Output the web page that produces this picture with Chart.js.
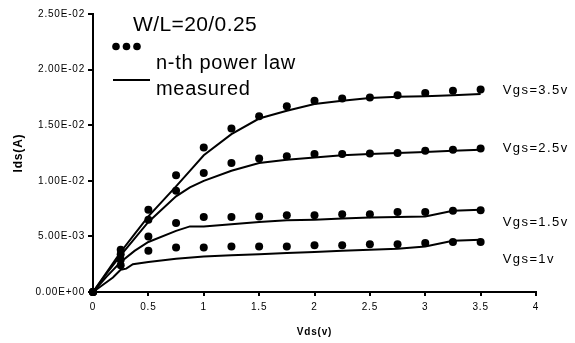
<!DOCTYPE html>
<html>
<head>
<meta charset="utf-8">
<script src="https://cdn.jsdelivr.net/npm/chart.js@4.4.1/dist/chart.umd.min.js"></script>
<style>
html,body{margin:0;padding:0;background:#fff;}
canvas{display:block;}
</style>
</head>
<body>
<canvas id="c" width="575" height="343" style="width:575px;height:343px"></canvas>
<script>
// ---- data ----
const vdsModel = [0, 0.25, 0.5, 0.75, 1, 1.25, 1.5, 1.75, 2, 2.25, 2.5, 2.75, 3, 3.25, 3.5];
const model35 = [0, 0.0038, 0.0074, 0.0105, 0.0130, 0.0147, 0.0158, 0.0167, 0.0172, 0.0174, 0.0175, 0.0177, 0.0179, 0.0181, 0.0182];
const model25 = [0, 0.0034, 0.0065, 0.0091, 0.0107, 0.0116, 0.0120, 0.0122, 0.0124, 0.0124, 0.01245, 0.0125, 0.0127, 0.0128, 0.0129];
const model15 = [0, 0.0029, 0.0050, 0.0062, 0.00675, 0.00675, 0.0068, 0.0069, 0.0069, 0.0070, 0.0070, 0.0072, 0.0072, 0.0073, 0.00735];
const model10 = [0, 0.0024, 0.0037, 0.0040, 0.0040, 0.0041, 0.0041, 0.0041, 0.0042, 0.0042, 0.0043, 0.0043, 0.0044, 0.0045, 0.0045];

const vdsMeasured = [0, 0.125, 0.25, 0.375, 0.5, 0.75, 0.875, 1, 1.25, 1.5, 1.75, 2, 2.25, 2.5, 2.75, 3, 3.25, 3.5];
const meas35 = [0, 0.0018, 0.0036, 0.0052, 0.0068, 0.0095, 0.0109, 0.0123, 0.0142, 0.0156, 0.0163, 0.0169, 0.0172, 0.01745, 0.01755, 0.0176, 0.0177, 0.0178];
const meas25 = [0, 0.0017, 0.0033, 0.0048, 0.0063, 0.0086, 0.0094, 0.0100, 0.0109, 0.0116, 0.0119, 0.0121, 0.0123, 0.0124, 0.0125, 0.0126, 0.0127, 0.0128];
const meas15 = [0, 0.0014, 0.0027, 0.0037, 0.0045, 0.0055, 0.0059, 0.0059, 0.0061, 0.0063, 0.00645, 0.0065, 0.0066, 0.0067, 0.00675, 0.0068, 0.0073, 0.0074];

const vdsMeasured1v = [0, 0.18, 0.25, 0.3, 0.36, 0.5, 0.75, 1, 1.25, 1.5, 1.75, 2, 2.25, 2.5, 2.75, 3, 3.25, 3.5];
const meas10 = [0, 0.0013, 0.0020, 0.0021, 0.0025, 0.0027, 0.0030, 0.0032, 0.0033, 0.0034, 0.0035, 0.0036, 0.0037, 0.0038, 0.0039, 0.0041, 0.0046, 0.0047];

const xTickLabels = ['0', '0.5', '1', '1.5', '2', '2.5', '3', '3.5', '4'];
const yTickLabels = ['0.00E+00', '5.00E-03', '1.00E-02', '1.50E-02', '2.00E-02', '2.50E-02'];

const titleText = 'W/L=20/0.25';
const legendLabels = ['n-th power law', 'measured'];
const curveLabels = ['Vgs=3.5v', 'Vgs=2.5v', 'Vgs=1.5v', 'Vgs=1v'];
const curveLabelX = 3.7;
const curveLabelY = [0.01777, 0.0126, 0.00591, 0.00261];

const xTitle = 'Vds(v)';
const yTitle = 'Ids(A)';

// ---- helpers ----
const FONT = '"Liberation Sans", Arial, Helvetica, sans-serif';
const pts = (xs, ys) => xs.map((x, i) => ({x: x, y: ys[i]}));
const setLS = (ctx, v) => { if ('letterSpacing' in ctx) ctx.letterSpacing = v; };

const dotSet = (ys) => ({
  data: pts(vdsModel, ys), showLine: false, pointRadius: 4, pointHoverRadius: 4,
  pointBackgroundColor: '#000', pointBorderColor: '#000', pointBorderWidth: 0, clip: false
});
const lineSet = (xs, ys) => ({
  data: pts(xs, ys), showLine: true, pointRadius: 0, borderColor: '#000', borderWidth: 2,
  tension: 0, fill: false, clip: false
});

const annotPlugin = {
  id: 'annot',
  beforeDraw(chart) { setLS(chart.ctx, '0.8px'); },
  afterDraw(chart) {
    const {ctx} = chart;
    const xs = chart.scales.x, ys = chart.scales.y;
    ctx.save();
    ctx.fillStyle = '#000';
    ctx.strokeStyle = '#000';
    ctx.textAlign = 'left';
    ctx.textBaseline = 'alphabetic';
    setLS(ctx, '0.4px');
    ctx.font = '21px ' + FONT;
    ctx.fillText(titleText, 133, 31);
    setLS(ctx, '0.7px');
    ctx.font = '20px ' + FONT;
    ctx.fillText(legendLabels[0], 156, 69);
    ctx.fillText(legendLabels[1], 156, 95);
    // legend samples
    [116, 126.5, 137].forEach(cx => {
      ctx.beginPath(); ctx.arc(cx, 46.5, 3.8, 0, Math.PI * 2); ctx.fill();
    });
    ctx.lineWidth = 2;
    ctx.beginPath(); ctx.moveTo(113, 80); ctx.lineTo(150, 80); ctx.stroke();
    // curve labels
    setLS(ctx, '1.4px');
    ctx.font = '13px ' + FONT;
    curveLabels.forEach((t, i) => {
      ctx.fillText(t, xs.getPixelForValue(curveLabelX), ys.getPixelForValue(curveLabelY[i]));
    });
    ctx.restore();
  }
};

new Chart(document.getElementById('c'), {
  type: 'scatter',
  data: {
    datasets: [
      lineSet(vdsMeasured, meas35),
      lineSet(vdsMeasured, meas25),
      lineSet(vdsMeasured, meas15),
      lineSet(vdsMeasured1v, meas10),
      dotSet(model35),
      dotSet(model25),
      dotSet(model15),
      dotSet(model10)
    ]
  },
  options: {
    responsive: false,
    animation: false,
    devicePixelRatio: 1,
    layout: {padding: {left: 0, top: 14, right: 39, bottom: 0}},
    plugins: {legend: {display: false}, tooltip: {enabled: false}},
    scales: {
      x: {
        type: 'linear', min: 0, max: 4,
        ticks: {stepSize: 0.5, color: '#000', padding: 5, maxRotation: 0, autoSkip: false,
          font: {family: FONT, size: 10},
          callback: (v, i) => xTickLabels[i]},
        grid: {display: true, drawOnChartArea: false, drawTicks: true, tickLength: 4, color: '#000', lineWidth: 2},
        border: {display: true, color: '#000', width: 2},
        title: {display: true, text: xTitle, color: '#000', font: {family: FONT, size: 10, weight: 'bold'}, padding: {top: 0, bottom: 5}},
        afterFit(s) { s.height = 51; s.paddingLeft = 0; s.paddingRight = 0; s.paddingTop = 0; s.paddingBottom = 0; }
      },
      y: {
        type: 'linear', min: 0, max: 0.025,
        ticks: {stepSize: 0.005, color: '#000', padding: 3, autoSkip: false,
          font: {family: FONT, size: 10},
          callback: (v, i) => yTickLabels[i]},
        grid: {display: true, drawOnChartArea: false, drawTicks: true, tickLength: 5, color: '#000', lineWidth: 2},
        border: {display: true, color: '#000', width: 2},
        title: {display: true, text: yTitle, color: '#000', font: {family: FONT, size: 12, weight: 'bold'}, padding: {top: 11, bottom: 0}},
        afterFit(s) { s.width = 93; s.paddingLeft = 0; s.paddingRight = 0; s.paddingTop = 0; s.paddingBottom = 0; }
      }
    }
  },
  plugins: [annotPlugin]
});
</script>
</body>
</html>
